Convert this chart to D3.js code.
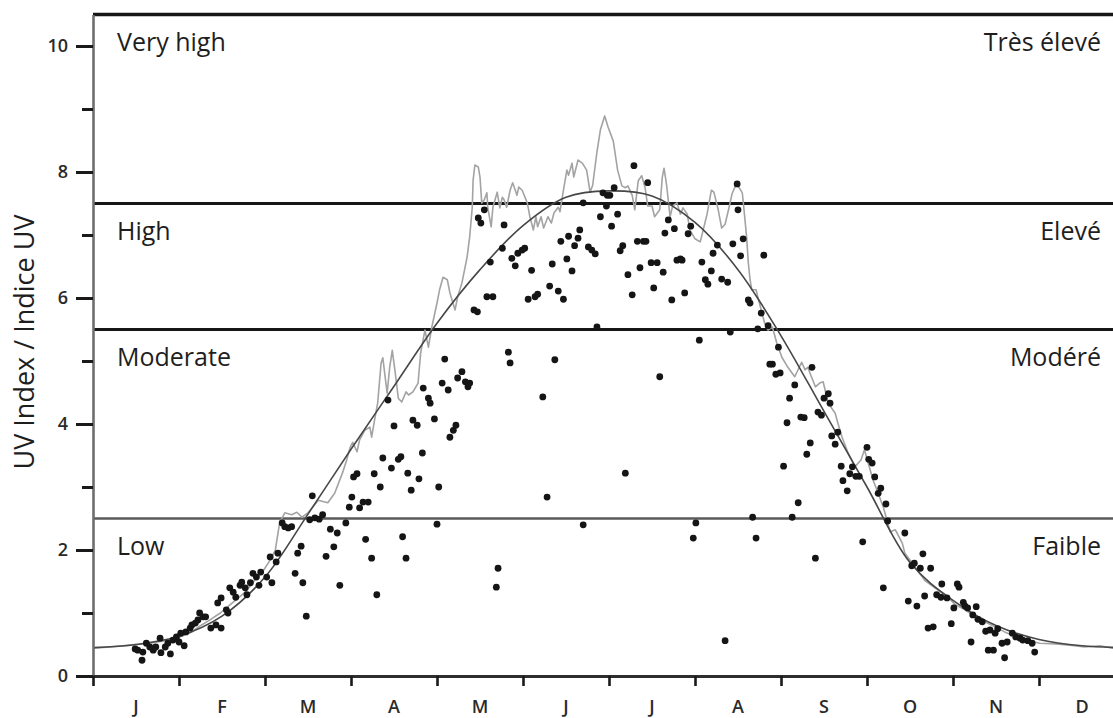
<!DOCTYPE html>
<html>
<head>
<meta charset="utf-8">
<script src="https://cdn.jsdelivr.net/npm/d3@7"></script>
<style>
  body { margin: 0; background: #fff; }
  svg { display: block; font-family: "Open Sans", "Noto Sans", sans-serif; }
</style>
</head>
<body>
<svg id="chart" width="1113" height="718"></svg>
<script>
// Month initials along the time axis (x in months since 1 January)
const monthLabels = ["J", "F", "M", "A", "M", "J", "J", "A", "S", "O", "N", "D"];

// Y axis ticks
const yMajorTicks = [0, 2, 4, 6, 8, 10];
const yMinorTicks = [1, 3, 5, 7, 9];

// UV risk bands: upper limit of each band and its names
const bandTops = [2.5, 5.5, 7.5, 10.5];
const bandNamesEn = ["Low", "Moderate", "High", "Very high"];
const bandNamesFr = ["Faible", "Modéré", "Elevé", "Très élevé"];

// Smooth seasonal curve [month, UV index]
const seasonalCurve = [
  [0, 0.45], [0.5, 0.5], [1, 0.63], [1.5, 0.95], [2, 1.57], [2.5, 2.57],
  [3, 3.6], [3.5, 4.6], [4, 5.6], [4.5, 6.45], [5, 7.15], [5.5, 7.6],
  [6, 7.7], [6.5, 7.62], [7, 7.2], [7.5, 6.45], [8, 5.4], [8.5, 4.2],
  [9, 3.0], [9.5, 1.8], [10, 1.2], [10.5, 0.8], [11, 0.58], [11.5, 0.48], [12, 0.45]
];

// Clear-sky daily maximum [month, UV index]
const clearSkyMax = [
  [0,0.44],[0.2,0.46],[0.43,0.49],[0.66,0.52],[0.84,0.56],[1.01,0.62],[1.15,0.7],[1.24,0.79],
  [1.36,0.89],[1.48,1.0],[1.62,1.16],[1.77,1.33],[1.88,1.52],[1.97,1.65],[2.06,1.84],[2.12,2.0],
  [2.17,2.43],[2.23,2.59],[2.31,2.56],[2.37,2.6],[2.43,2.52],[2.5,2.59],[2.62,2.79],[2.73,2.75],
  [2.81,2.9],[2.9,3.22],[2.95,3.43],[2.99,3.63],[3.02,3.71],[3.07,3.56],[3.1,3.75],[3.16,3.9],
  [3.22,3.95],[3.24,3.79],[3.28,4.11],[3.31,4.33],[3.35,4.97],[3.37,5.05],[3.42,4.49],[3.45,4.9],
  [3.48,5.17],[3.51,4.86],[3.55,4.41],[3.59,4.35],[3.64,4.51],[3.67,4.46],[3.72,4.51],[3.78,4.65],
  [3.81,5.13],[3.86,5.49],[3.9,5.22],[3.94,5.54],[4.0,5.92],[4.03,6.13],[4.07,6.33],[4.12,6.29],
  [4.15,6.08],[4.21,5.81],[4.24,6.02],[4.29,6.24],[4.35,6.65],[4.38,6.97],[4.41,7.44],[4.42,7.87],
  [4.44,8.11],[4.48,8.08],[4.5,7.92],[4.52,7.51],[4.55,7.56],[4.58,7.67],[4.59,7.44],[4.63,7.13],
  [4.65,7.44],[4.7,7.68],[4.73,7.43],[4.76,7.6],[4.78,7.56],[4.81,7.44],[4.85,7.71],[4.88,7.83],
  [4.93,7.63],[4.95,7.76],[4.99,7.71],[5.05,7.51],[5.08,7.29],[5.12,7.08],[5.15,7.29],[5.17,7.13],
  [5.21,7.29],[5.24,7.11],[5.29,7.29],[5.33,7.19],[5.36,7.35],[5.41,7.44],[5.43,7.37],[5.47,7.71],
  [5.51,8.03],[5.53,7.95],[5.57,8.14],[5.59,7.92],[5.64,8.19],[5.69,8.14],[5.74,8.03],[5.78,7.68],
  [5.81,7.79],[5.86,8.32],[5.9,8.67],[5.95,8.89],[5.99,8.71],[6.05,8.49],[6.1,8.03],[6.15,7.78],
  [6.19,7.75],[6.22,7.78],[6.27,7.63],[6.3,7.4],[6.34,7.86],[6.38,7.94],[6.42,7.75],[6.45,7.46],
  [6.5,7.46],[6.53,7.29],[6.59,7.4],[6.62,7.92],[6.64,8.06],[6.67,7.79],[6.71,7.29],[6.74,7.46],
  [6.79,7.51],[6.83,7.33],[6.86,7.43],[6.91,7.33],[6.94,7.08],[7.0,6.94],[7.06,6.89],[7.09,7.05],
  [7.14,7.33],[7.19,7.71],[7.22,7.68],[7.27,7.4],[7.31,7.11],[7.35,7.17],[7.4,7.46],[7.43,7.65],
  [7.47,7.78],[7.51,7.76],[7.55,7.67],[7.57,7.4],[7.6,6.97],[7.62,6.56],[7.64,6.29],[7.66,6.13],
  [7.71,6.13],[7.73,6.02],[7.77,5.81],[7.81,5.6],[7.85,5.49],[7.9,5.54],[7.95,5.29],[8.01,5.06],
  [8.08,4.9],[8.16,4.75],[8.24,4.98],[8.28,4.86],[8.31,4.9],[8.4,4.59],[8.45,4.65],[8.49,4.67],
  [8.55,4.33],[8.63,4.17],[8.66,4.02],[8.71,3.79],[8.78,3.54],[8.86,3.32],[8.93,3.43],[8.97,3.59],
  [9.01,3.4],[9.07,3.11],[9.13,2.9],[9.19,2.68],[9.23,2.48],[9.27,2.29],[9.33,2.32],[9.41,2.11],
  [9.44,1.95],[9.56,1.73],[9.67,1.52],[9.79,1.4],[9.91,1.29],[10.02,1.14],[10.14,1.05],[10.26,0.94],
  [10.37,0.86],[10.49,0.78],[10.6,0.7],[10.72,0.63],[10.84,0.57],[11.01,0.52],[11.19,0.51],
  [11.36,0.49],[11.53,0.46],[11.71,0.48],[11.86,0.44],[12,0.44]
];

// Measured daily maximum [month, UV index]
const measuredMax = [
  [0.49,0.43],[0.52,0.41],[0.57,0.25],[0.58,0.38],[0.62,0.52],[0.66,0.46],[0.7,0.41],[0.73,0.46],
  [0.78,0.6],[0.79,0.37],[0.84,0.46],[0.87,0.52],[0.9,0.35],[0.93,0.57],[0.97,0.62],[1.0,0.54],
  [1.02,0.68],[1.06,0.48],[1.08,0.7],[1.13,0.76],[1.15,0.81],[1.19,0.84],[1.22,0.89],[1.24,1.0],
  [1.28,0.94],[1.31,0.94],[1.37,0.76],[1.43,0.81],[1.49,0.76],[1.45,1.16],[1.49,1.24],[1.55,1.05],
  [1.57,1.0],[1.59,1.4],[1.63,1.33],[1.66,1.25],[1.71,1.44],[1.73,1.49],[1.77,1.4],[1.79,1.29],
  [1.83,1.48],[1.86,1.63],[1.9,1.57],[1.93,1.44],[1.95,1.65],
  [2.02,1.57],[2.08,1.48],[2.06,1.89],[2.13,1.81],[2.15,1.95],[2.2,2.43],[2.23,2.37],[2.27,2.35],
  [2.31,2.37],[2.35,1.63],[2.38,1.95],[2.42,2.06],[2.44,1.48],[2.48,0.95],[2.52,2.48],[2.55,2.86],
  [2.58,2.51],[2.63,2.49],[2.67,2.56],[2.71,1.9],[2.76,2.33],[2.8,2.05],[2.84,2.27],[2.87,1.44],
  [2.94,2.43],[2.98,2.68],[3.01,2.84],[3.03,3.16],[3.07,3.21],[3.1,2.67],[3.14,2.76],[3.2,2.76],
  [3.17,2.17],[3.24,1.87],[3.27,3.21],[3.3,1.29],[3.34,3.0],[3.37,3.46],[3.43,4.38],[3.47,3.3],
  [3.5,3.97],[3.55,3.44],[3.58,3.48],[3.6,2.21],[3.64,1.87],[3.66,3.22],[3.7,2.95],[3.72,4.06],
  [3.77,3.98],[3.79,3.13],[3.83,3.54],[3.84,4.57],
  [3.9,4.41],[3.92,4.33],[3.97,4.08],[4.0,2.41],[4.02,3.0],[4.06,4.65],[4.09,5.03],[4.13,4.54],
  [4.15,3.79],[4.19,3.9],[4.22,3.98],[4.24,4.73],[4.29,4.83],[4.33,4.67],[4.36,4.59],[4.38,4.65],
  [4.43,5.81],[4.47,5.78],[4.48,7.27],[4.51,7.19],[4.55,7.4],[4.58,6.02],[4.62,6.57],[4.65,6.02],
  [4.69,1.41],[4.71,1.71],[4.76,6.79],[4.78,7.16],[4.83,5.14],[4.85,4.97],[4.87,6.63],[4.91,6.51],
  [4.94,6.71],[4.99,6.76],[5.02,6.79],[5.06,5.98],[5.1,6.44],[5.14,6.02],[5.17,6.06],[5.23,4.43],
  [5.28,2.84],[5.31,6.19],[5.34,6.54],[5.37,5.02],[5.41,6.11],[5.44,6.9],[5.47,5.98],[5.51,6.62],
  [5.53,6.98],[5.57,6.43],[5.6,6.83],[5.64,6.95],[5.66,7.08],[5.7,2.4],
  [5.7,7.51],[5.76,6.81],[5.8,6.76],[5.84,6.7],[5.86,5.54],[5.9,7.29],[5.93,7.67],[5.98,7.63],
  [5.97,7.46],[6.01,7.63],[6.03,7.14],[6.06,7.75],[6.1,7.33],[6.13,6.75],[6.16,6.83],[6.19,3.22],
  [6.22,6.37],[6.27,6.05],[6.29,8.1],[6.33,6.9],[6.36,6.48],[6.4,6.9],[6.43,6.9],[6.45,7.83],
  [6.49,6.56],[6.52,6.16],[6.56,6.56],[6.59,4.75],[6.63,6.41],[6.65,7.03],[6.69,7.24],[6.73,5.97],
  [6.76,7.1],[6.79,6.6],[6.83,6.62],[6.85,6.6],[6.88,6.08],[6.92,7.02],[6.95,7.14],[6.98,2.19],
  [7.01,2.43],[7.05,5.33],[7.08,6.57],[7.12,6.29],[7.15,6.22],[7.19,6.43],[7.21,6.71],[7.26,6.84],
  [7.31,6.3],[7.35,0.56],[7.38,6.25],[7.41,5.46],[7.44,6.86],[7.49,7.81],[7.5,7.4],[7.53,6.67],
  [7.56,6.94],
  [7.8,6.68],[7.62,5.97],[7.64,5.92],[7.77,5.76],[7.73,5.51],[7.85,5.56],[7.97,5.22],[7.87,4.95],
  [7.9,4.95],[7.94,4.79],[7.99,4.81],[8.16,4.62],[8.36,4.9],[8.1,4.41],[8.07,4.02],[8.23,4.11],
  [8.27,4.1],[8.34,3.7],[8.3,3.52],[8.03,3.33],[8.2,2.75],[8.43,4.19],[8.47,4.14],[8.5,4.41],
  [8.55,4.48],[8.57,4.33],[8.59,3.81],[8.63,3.68],[8.66,3.87],[8.7,3.33],[8.72,3.1],[8.77,2.94],
  [8.8,3.21],[8.83,3.32],[8.87,3.17],[8.91,3.17],[9.0,3.63],[9.02,3.44],[9.06,3.38],[9.09,3.16],
  [9.13,2.9],[9.16,2.98],[9.22,2.73],[9.24,2.46],[7.67,2.52],[7.71,2.19],[8.13,2.52],[8.4,1.87],
  [8.95,2.13],[9.19,1.4],[9.44,2.27],
  [9.65,1.94],[9.52,1.75],[9.55,1.79],[9.62,1.71],[9.74,1.71],[9.48,1.19],[9.58,1.11],[9.67,1.27],
  [9.81,1.29],[9.87,1.46],[9.86,1.25],[9.93,1.24],[10.01,1.08],[10.05,1.46],[10.07,1.41],[10.12,1.17],
  [10.14,1.11],[10.17,1.08],[10.27,1.1],[10.23,0.97],[10.29,0.9],[10.34,0.86],[9.71,0.76],[9.77,0.78],
  [9.98,0.83],[10.21,0.54],[10.38,0.71],[10.43,0.73],[10.49,0.68],[10.52,0.75],[10.57,0.52],[10.63,0.54],
  [10.69,0.68],[10.73,0.62],[10.78,0.6],[10.81,0.57],[10.87,0.56],[10.92,0.52],[10.41,0.41],[10.47,0.41],
  [10.6,0.29],[10.95,0.38]
];

const svg = d3.select("#chart");
const plotLeft = 93, plotBottom = 676, plotRight = 1125, plotTop = 14.5;

const x = d3.scaleLinear().domain([0, 12]).range([plotLeft, plotRight]);
const y = d3.scaleLinear().domain([0, 10.5]).range([plotBottom, plotTop]);

// Band limits (top border is the upper limit of the last band)
svg.append("g")
  .selectAll("line")
  .data(bandTops)
  .join("line")
  .attr("x1", plotLeft)
  .attr("x2", plotRight)
  .attr("y1", d => y(d))
  .attr("y2", d => y(d))
  .attr("stroke", (d, i) => i === 0 ? "#5a5a5a" : "#161616")
  .attr("stroke-width", (d, i) => i === 0 ? 2.4 : (i === 3 ? 3.6 : 3));

// Band names, English on the left and French on the right
const bandLabels = svg.append("g").attr("font-size", 25).attr("fill", "#1e1e1e");
bandLabels.selectAll("text.en")
  .data(bandNamesEn)
  .join("text")
  .attr("class", "en")
  .attr("x", 117)
  .attr("y", (d, i) => y(bandTops[i]) + 36)
  .text(d => d);
bandLabels.selectAll("text.fr")
  .data(bandNamesFr)
  .join("text")
  .attr("class", "fr")
  .attr("x", 1101)
  .attr("y", (d, i) => y(bandTops[i]) + 36)
  .attr("text-anchor", "end")
  .text(d => d);

// Clear-sky maximum
svg.append("path")
  .datum(clearSkyMax)
  .attr("fill", "none")
  .attr("stroke", "#a3a3a3")
  .attr("stroke-width", 1.6)
  .attr("stroke-linejoin", "round")
  .attr("d", d3.line().x(d => x(d[0])).y(d => y(d[1])));

// Seasonal curve
svg.append("path")
  .datum(seasonalCurve)
  .attr("fill", "none")
  .attr("stroke", "#474747")
  .attr("stroke-width", 1.6)
  .attr("d", d3.line().curve(d3.curveCatmullRom.alpha(0.5)).x(d => x(d[0])).y(d => y(d[1])));

// Measured values
svg.append("g")
  .selectAll("circle")
  .data(measuredMax)
  .join("circle")
  .attr("cx", d => x(d[0]))
  .attr("cy", d => y(d[1]))
  .attr("r", 3.4)
  .attr("fill", "#151515");

// Left axis: major ticks with labels, minor ticks without
const yAxis = svg.append("g")
  .attr("transform", `translate(${plotLeft},0)`)
  .call(d3.axisLeft(y).tickValues(yMajorTicks).tickSize(17).tickSizeOuter(0).tickPadding(8).tickFormat(d3.format("d")));
yAxis.select(".domain").attr("stroke", "#6e6e6e").attr("stroke-width", 2.6);
yAxis.selectAll(".tick line").attr("stroke", "#1a1a1a").attr("stroke-width", 3);
yAxis.selectAll(".tick text").attr("font-size", 18).attr("font-weight", 600).attr("fill", "#2a2a2a").attr("font-family", "\"Open Sans\", sans-serif");

const yMinor = svg.append("g")
  .attr("transform", `translate(${plotLeft},0)`)
  .call(d3.axisLeft(y).tickValues(yMinorTicks).tickSize(11).tickFormat(""));
yMinor.select(".domain").remove();
yMinor.selectAll(".tick line").attr("stroke", "#1a1a1a").attr("stroke-width", 3);

// Bottom axis: month boundaries with initials centred on each month
const xAxis = svg.append("g")
  .attr("transform", `translate(0,${plotBottom})`)
  .call(d3.axisBottom(x).tickValues(d3.range(13)).tickSize(10).tickSizeOuter(0).tickFormat(""));
xAxis.select(".domain").attr("stroke", "#2e2e2e").attr("stroke-width", 3);
xAxis.selectAll(".tick line").attr("stroke", "#1a1a1a").attr("stroke-width", 2.6);

svg.append("g")
  .selectAll("text")
  .data(monthLabels)
  .join("text")
  .attr("x", (d, i) => x(i + 0.5))
  .attr("y", 713)
  .attr("text-anchor", "middle")
  .attr("font-size", 18)
  .attr("font-weight", 600)
  .attr("fill", "#2a2a2a")
  .text(d => d);

// Y axis title
svg.append("text")
  .attr("transform", "translate(34,342) rotate(-90)")
  .attr("text-anchor", "middle")
  .attr("font-size", 27)
  .attr("fill", "#1e1e1e")
  .text("UV Index / Indice UV");
</script>
</body>
</html>
